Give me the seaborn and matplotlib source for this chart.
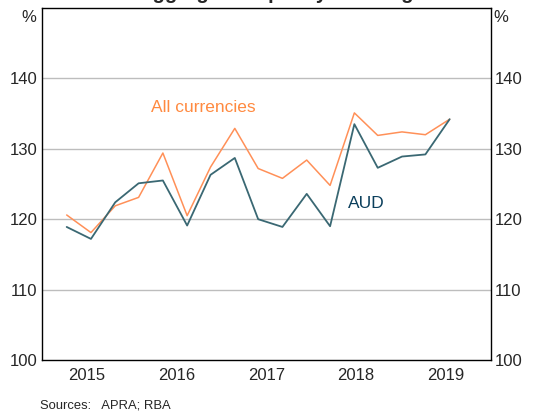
# Aggregate LCR chart - AUD vs all currencies
import pandas as pd
import matplotlib
matplotlib.use('Agg')
import matplotlib.pyplot as plt
import seaborn as sns

anos = [2015.28, 2015.55, 2015.82, 2016.08, 2016.35, 2016.62, 2016.88, 2017.15,
        2017.41, 2017.68, 2017.95, 2018.21, 2018.48, 2018.74, 2019.01, 2019.27, 2019.54]
todas_moedas = [120.6, 118.1, 121.9, 123.1, 129.4, 120.5, 127.4, 132.9, 127.2,
                125.8, 128.4, 124.8, 135.1, 131.9, 132.4, 132.0, 134.2]
aud = [118.9, 117.2, 122.4, 125.1, 125.5, 119.1, 126.3, 128.7, 120.0,
       118.9, 123.6, 119.0, 133.5, 127.3, 128.9, 129.2, 134.2]
rotulos_anos = ['2015', '2016', '2017', '2018', '2019']
ticks_y = [100, 110, 120, 130, 140]

df = pd.DataFrame({'Ano': anos, 'Todas': todas_moedas, 'AUD': aud})

sns.set_style('white')
plt.rcParams['font.family'] = ['Liberation Sans', 'DejaVu Sans']

fig = plt.figure(figsize=(5.55, 4.12), dpi=100)
ax = fig.add_axes([0.0748, 0.1262, 0.8099, 0.8544])

for y in ticks_y[1:]:
    ax.axhline(y, color='#BDBDBD', lw=1.0, zorder=0)

sns.lineplot(x='Ano', y='Todas', data=df, ax=ax, color='#FF9058', lw=1.1)
sns.lineplot(x='Ano', y='AUD', data=df, ax=ax, color='#3A6873', lw=1.3)

ax.set_xlim(2015, 2020)
ax.set_ylim(100, 150)
ax.set_xlabel('')
ax.set_ylabel('')

# year boundaries as ticks, labels at mid-year
ax.set_xticks([2016, 2017, 2018, 2019])
ax.set_xticklabels([])
ax.set_xticks([int(a) + 0.5 for a in rotulos_anos], minor=True)
ax.set_xticklabels(rotulos_anos, minor=True, fontsize=12)
ax.tick_params(axis='x', which='major', direction='in', length=4.5, width=0.8, color='black')
ax.tick_params(axis='x', which='minor', length=0, pad=6)

ax.set_yticks(ticks_y)
ax.set_yticklabels([str(t) for t in ticks_y], fontsize=12)
ax.tick_params(axis='y', length=0, pad=3, labelleft=True, labelright=True)

for s in ax.spines.values():
    s.set_color('black')
    s.set_linewidth(1.0)
    s.set_visible(True)

fig.text(29 / 555, 1 - 17 / 412, '%', ha='center', va='center', fontsize=12)
fig.text(501 / 555, 1 - 17 / 412, '%', ha='center', va='center', fontsize=12)

ax.text(2016.80, 135.9, 'All currencies', color='#FF8A40', fontsize=12.5, ha='center', va='center')
ax.text(2018.61, 122.3, 'AUD', color='#0B3F5C', fontsize=12.5, ha='center', va='center')

fig.text(40 / 555, 1 - 405 / 412, 'Sources:   APRA; RBA', fontsize=9.4, ha='left', va='center')

# title, mostly outside the crop
fig.text(138 / 555, 1 + 1 / 412, 'Aggregate Liquidity Coverage Ratio', fontsize=14.5,
         fontweight='bold', ha='left', va='baseline')

fig.savefig('out.png', dpi=100)
